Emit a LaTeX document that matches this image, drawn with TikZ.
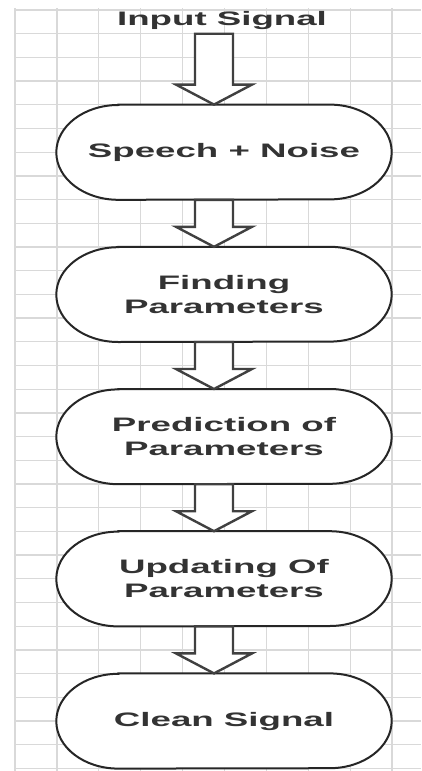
\documentclass[tikz,border=0pt]{standalone}
\usepackage{fontspec}
\setmainfont{Liberation Sans}
\usetikzlibrary{calc}
\newcommand{\wide}[1]{\scalebox{1.88}[1]{#1}}
\newcommand{\stadiumof}[1]{%
  \draw[outline] ([xshift=62pt]#1.north west) -- ([xshift=-62pt]#1.north east)
    arc[start angle=90,end angle=-90,x radius=62pt,y radius=47.4pt]
    -- ([xshift=62pt]#1.south west)
    arc[start angle=270,end angle=90,x radius=62pt,y radius=47.4pt] -- cycle;}
\newcommand{\blockarrow}[2]{%
  \draw[barrow] ($(#1)+(-19,0)$) -- ($(#2)+(-19,20)$) -- ($(#2)+(-38,20)$) -- (#2)
    -- ($(#2)+(38,20)$) -- ($(#2)+(19,20)$) -- ($(#1)+(19,0)$) -- cycle;}
\begin{document}
\begin{tikzpicture}[x=1pt,y=1pt,
  gridline/.style={draw=black!15,line width=1.3pt},
  outline/.style={draw=black!85,line width=2pt,fill=white},
  barrow/.style={draw=black!75,line width=2.4pt,fill=white,line join=miter},
  box/.style={rectangle,minimum width=335pt,minimum height=94.8pt,inner sep=0pt,
    align=center,text=black!80,font=\fontsize{19.5}{24}\selectfont\bfseries},
  title/.style={inner sep=0pt,text=black!80,font=\fontsize{19.5}{24}\selectfont\bfseries}]
\useasboundingbox[fill=white] (0,0) rectangle (421,-771);
% grid
\foreach \k in {0,...,9} {\draw[gridline] (15+41.9*\k,-8) -- (15+41.9*\k,-771);}
\foreach \k in {0,...,32} {\draw[gridline] (15,-10-23.7*\k) -- (421,-10-23.7*\k);}
% nodes
\node[title] (in) at (222,-21) {\wide{Input Signal}};
\coordinate (a0) at (214,-33.7);
\node[box] (n1) at (224,-152.2) {};
\node[box] (n2) at (224,-294.4) {};
\node[box] (n3) at (224,-436.6) {};
\node[box] (n4) at (224,-578.8) {};
\node[box] (n5) at (224,-721.0) {};
\foreach \n in {n1,n2,n3,n4,n5} {\stadiumof{\n}}
\node[box] at (n1) {\wide{Speech + Noise}};
\node[box] at (n2) {\wide{Finding}\\\wide{Parameters}};
\node[box] at (n3) {\wide{Prediction of}\\\wide{Parameters}};
\node[box] at (n4) {\wide{Updating Of}\\\wide{Parameters}};
\node[box] at (n5) {\wide{Clean Signal}};
% arrows
\coordinate (t1) at ($(n1.north)+(-10,0)$);
\coordinate (s1) at ($(n1.south)+(-10,0)$);
\coordinate (t2) at ($(n2.north)+(-10,0)$);
\coordinate (s2) at ($(n2.south)+(-10,0)$);
\coordinate (t3) at ($(n3.north)+(-10,0)$);
\coordinate (s3) at ($(n3.south)+(-10,0)$);
\coordinate (t4) at ($(n4.north)+(-10,0)$);
\coordinate (s4) at ($(n4.south)+(-10,0)$);
\coordinate (t5) at ($(n5.north)+(-10,0)$);
\blockarrow{a0}{t1}
\blockarrow{s1}{t2}
\blockarrow{s2}{t3}
\blockarrow{s3}{t4}
\blockarrow{s4}{t5}
\end{tikzpicture}
\end{document}
